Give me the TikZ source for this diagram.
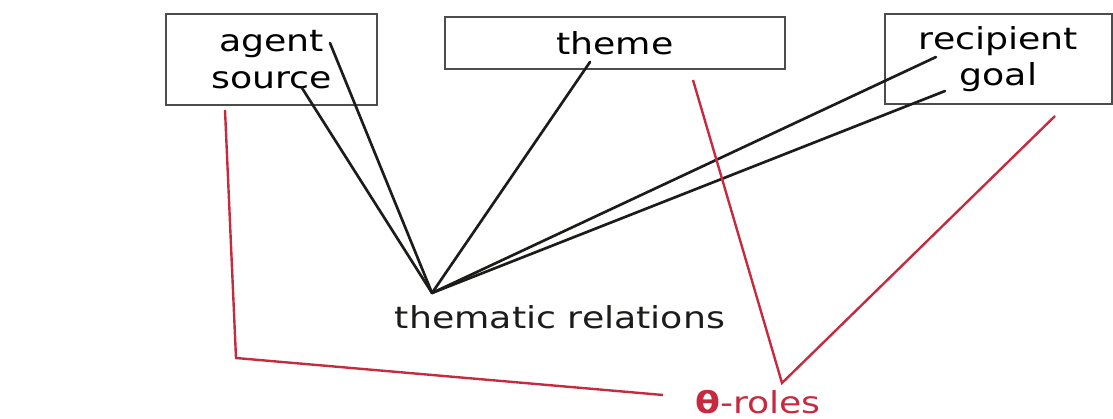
\documentclass[tikz,border=0pt]{standalone}
\usepackage{fontspec}
\newfontfamily\handfont[FakeStretch=1.2]{DejaVu Sans}
\usepackage{tikz}
\usetikzlibrary{positioning, calc}

\definecolor{rolered}{RGB}{198,42,62}
\definecolor{inkblack}{RGB}{28,28,26}

\begin{document}
\begin{tikzpicture}[x=0.025cm, y=-0.025cm, every node/.style={font=\handfont\fontsize{21.5}{26}\selectfont}]
    \tikzstyle{rolebox}=[rectangle, draw=black!70, line width=0.8pt, align=center, inner sep=0pt]
    \tikzstyle{link}=[draw=inkblack, line width=1.9pt, line cap=round]
    \tikzstyle{redlink}=[draw=rolered, line width=1.7pt, line join=miter]

    \useasboundingbox (0,0) rectangle (1113,419);

    \node[rolebox, minimum width=5.275cm, minimum height=2.275cm] (agent) at (271.5,59.5) {agent\\source};
    \node[rolebox, minimum width=8.5cm, minimum height=1.3cm] (theme) at (615,43) {theme};
    \node[rolebox, minimum width=5.675cm, minimum height=2.25cm] (recip) at (998.5,59) {recipient\\goal};

    \node[inkblack] (threl) at (560,317) {thematic relations};
    \node[rolered] (roles) at (758,402) {{\bfseries θ}-roles};

    \coordinate (hub) at (432,293);
    \coordinate (agentend) at (330,43);
    \coordinate (sourceend) at (302,88);
    \coordinate (themeend) at (590,62);
    \coordinate (recipend) at (936,57);
    \coordinate (goalend) at (945,91);

    \coordinate (redtop) at (225,110);
    \coordinate (redcorner) at (236,358);
    \coordinate (redend) at (663,395);
    \coordinate (vleft) at (693,80);
    \coordinate (vbottom) at (782,383);
    \coordinate (vright) at (1055,116);

    \draw[link] (hub) -- (agentend);
    \draw[link] (hub) -- (sourceend);
    \draw[link] (hub) -- (themeend);
    \draw[link] (hub) -- (recipend);
    \draw[link] (hub) -- (goalend);

    \draw[redlink] (redtop) -- (redcorner) -- (redend);
    \draw[redlink] (vleft) -- (vbottom) -- (vright);
\end{tikzpicture}
\end{document}
